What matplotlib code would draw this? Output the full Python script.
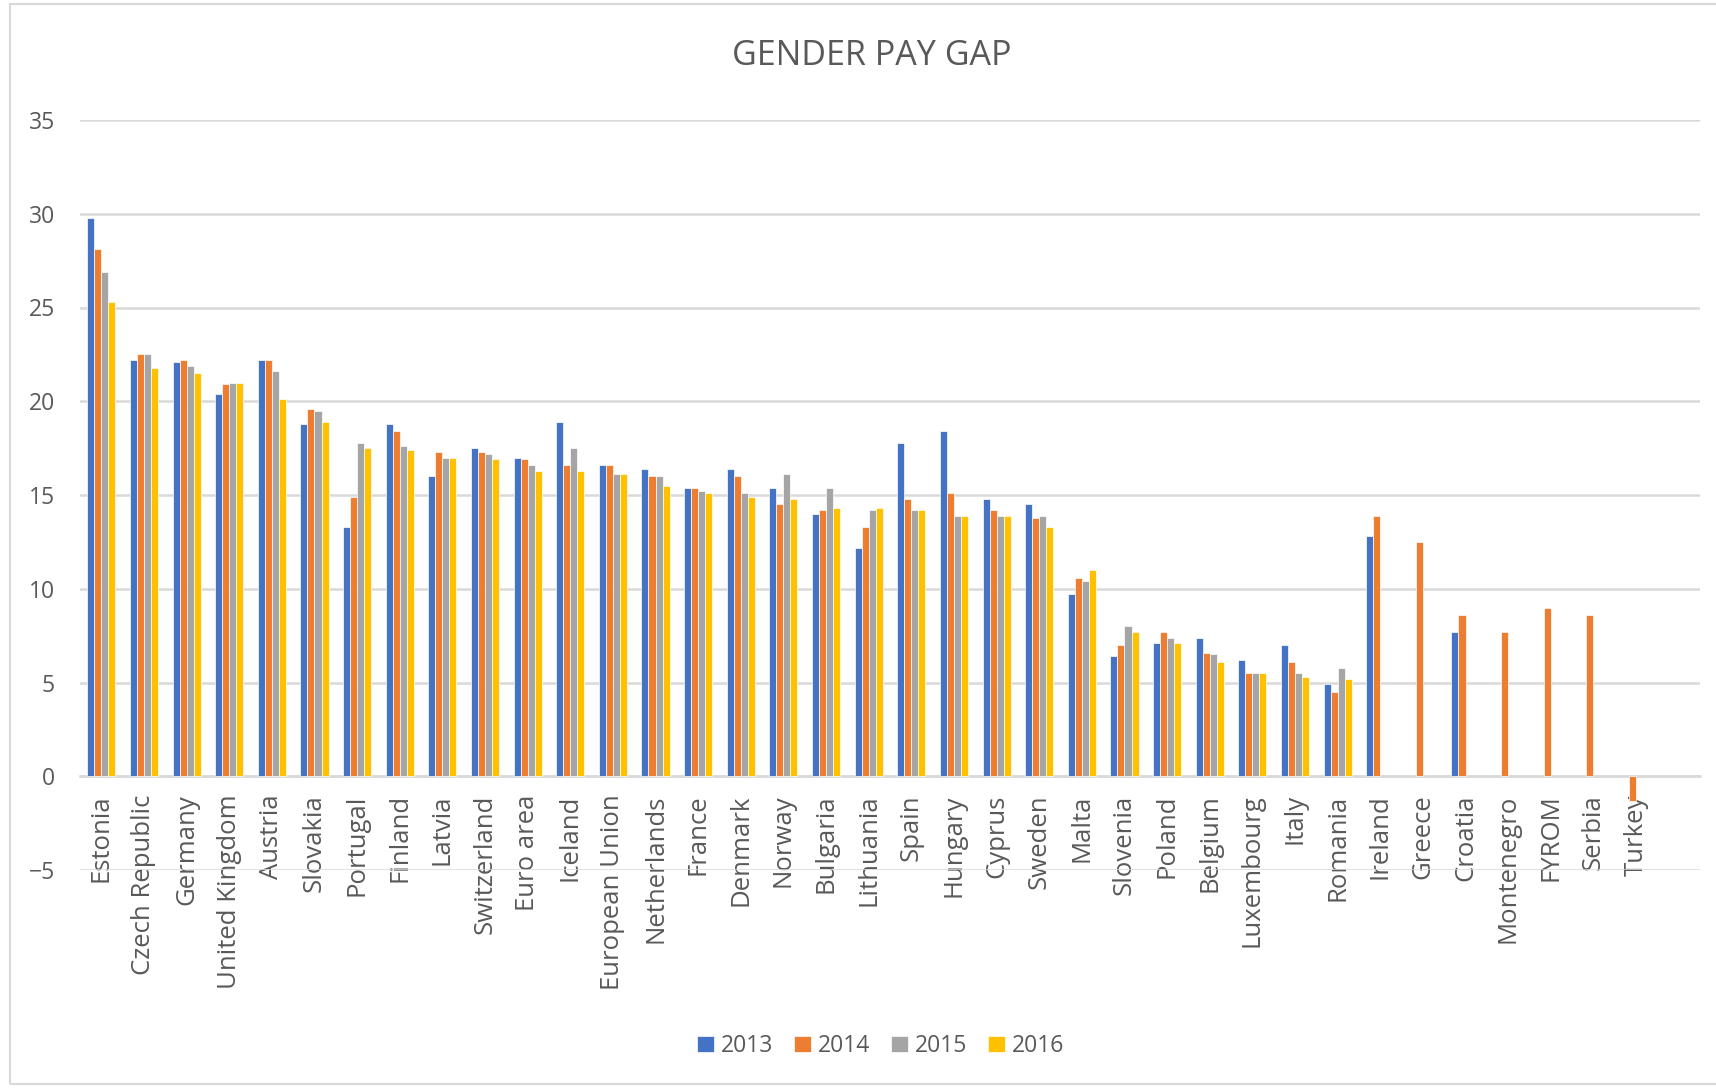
import numpy as np
import matplotlib
matplotlib.use("Agg")
import matplotlib.pyplot as plt
from matplotlib.patches import Rectangle

plt.rcParams["font.family"] = ["Open Sans", "DejaVu Sans"]

countries = [
    "Estonia", "Czech Republic", "Germany", "United Kingdom", "Austria",
    "Slovakia", "Portugal", "Finland", "Latvia", "Switzerland", "Euro area",
    "Iceland", "European Union", "Netherlands", "France", "Denmark", "Norway",
    "Bulgaria", "Lithuania", "Spain", "Hungary", "Cyprus", "Sweden", "Malta",
    "Slovenia", "Poland", "Belgium", "Luxembourg", "Italy", "Romania",
    "Ireland", "Greece", "Croatia", "Montenegro", "FYROM", "Serbia", "Turkey", "",
]

nan = np.nan
gap_2013 = [29.8, 22.2, 22.1, 20.4, 22.2, 18.8, 13.3, 18.8, 16.0, 17.5, 17.0,
            18.9, 16.6, 16.4, 15.4, 16.4, 15.4, 14.0, 12.2, 17.8, 18.4, 14.8,
            14.5, 9.7, 6.4, 7.1, 7.4, 6.2, 7.0, 4.9,
            12.8, nan, 7.7, nan, nan, nan, nan, nan]
gap_2014 = [28.1, 22.5, 22.2, 20.9, 22.2, 19.6, 14.9, 18.4, 17.3, 17.3, 16.9,
            16.6, 16.6, 16.0, 15.4, 16.0, 14.5, 14.2, 13.3, 14.8, 15.1, 14.2,
            13.8, 10.6, 7.0, 7.7, 6.6, 5.5, 6.1, 4.5,
            13.9, 12.5, 8.6, 7.7, 9.0, 8.6, -1.3, nan]
gap_2015 = [26.9, 22.5, 21.9, 21.0, 21.6, 19.5, 17.8, 17.6, 17.0, 17.2, 16.6,
            17.5, 16.1, 16.0, 15.2, 15.1, 16.1, 15.4, 14.2, 14.2, 13.9, 13.9,
            13.9, 10.4, 8.0, 7.4, 6.5, 5.5, 5.5, 5.8,
            nan, nan, nan, nan, nan, nan, nan, nan]
gap_2016 = [25.3, 21.8, 21.5, 21.0, 20.1, 18.9, 17.5, 17.4, 17.0, 16.9, 16.3,
            16.3, 16.1, 15.5, 15.1, 14.9, 14.8, 14.3, 14.3, 14.2, 13.9, 13.9,
            13.3, 11.0, 7.7, 7.1, 6.1, 5.5, 5.3, 5.2,
            nan, nan, nan, nan, nan, nan, nan, nan]

years = ["2013", "2014", "2015", "2016"]
series = [gap_2013, gap_2014, gap_2015, gap_2016]
colors = ["#4472C4", "#ED7D31", "#A5A5A5", "#FFC000"]

text_color = "#595959"
grid_color = "#D9D9D9"

W, H = 1716, 1088
fig = plt.figure(figsize=(W / 100, H / 100), dpi=100)
ax = fig.add_axes([80 / W, 1 - 870 / H, 1620 / W, 750 / H])

x = np.arange(len(countries))
bar_w = 0.165
for k, (vals, year, col) in enumerate(zip(series, years, colors)):
    ax.bar(x + (k - 1.5) * bar_w, np.array(vals, dtype=float), width=bar_w,
           color=col, edgecolor="white", linewidth=0.5, label=year, zorder=3)

ax.set_xlim(-0.5, len(countries) - 0.5)
ax.set_ylim(-5, 35)
ax.set_yticks(np.arange(-5, 36, 5))
ax.yaxis.grid(True, color=grid_color, linewidth=1.8, zorder=0)
ax.set_axisbelow(True)

for side in ["left", "right", "top"]:
    ax.spines[side].set_visible(False)
ax.spines["bottom"].set_position(("data", 0))
ax.spines["bottom"].set_color(grid_color)
ax.spines["bottom"].set_linewidth(1.8)

ax.set_xticks(x)
ax.set_xticklabels(countries, rotation=90, fontsize=18.5, color=text_color)
ax.tick_params(axis="x", length=0, pad=13)
ax.tick_params(axis="y", length=0, pad=18, labelsize=16.5, labelcolor=text_color)

fig.text(872 / W, 1 - 56 / H, "GENDER PAY GAP", ha="center", va="center",
         fontsize=24.5, color=text_color)

fig.legend(loc="center", bbox_to_anchor=(881 / W, 1 - 1046 / H), ncol=4,
           frameon=False, fontsize=16.5, labelcolor=text_color,
           handlelength=0.75, handleheight=0.75, handletextpad=0.3,
           columnspacing=0.9)

# thin frame around the whole chart area
fig.patches.append(Rectangle((10, 4), W, H - 8, transform=None, fill=False,
                             edgecolor=grid_color, linewidth=1.5))

fig.savefig("out.png", dpi=100)
